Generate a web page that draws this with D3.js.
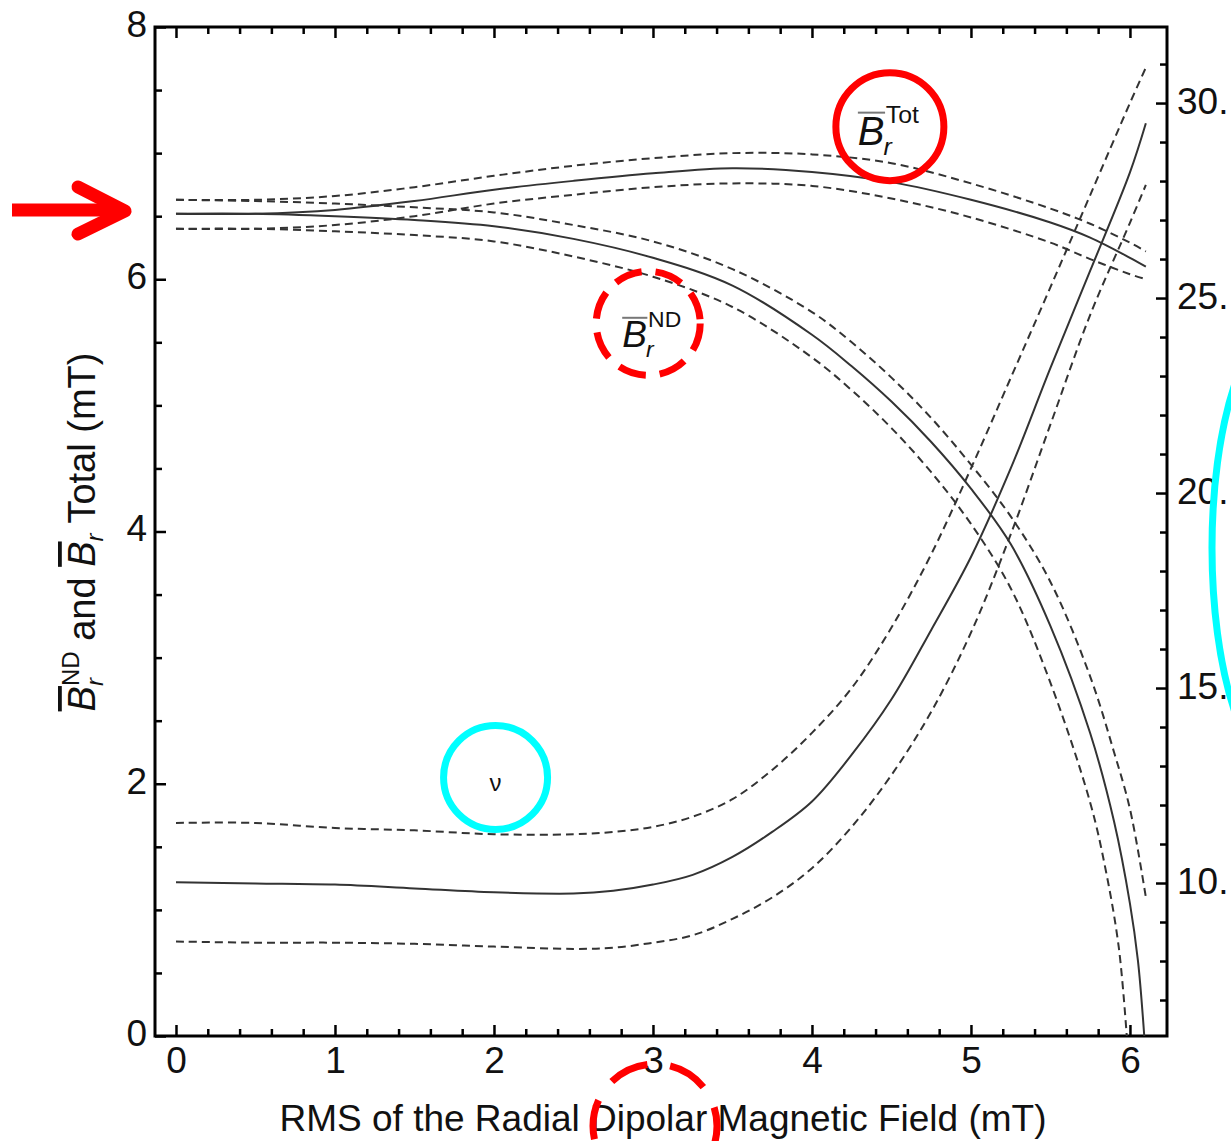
<!DOCTYPE html>
<html>
<head>
<meta charset="utf-8">
<script src="https://cdn.jsdelivr.net/npm/d3@7"></script>
<style>
body { margin: 0; background: #fff; }
text { font-family: "Liberation Sans", Arial, sans-serif; fill: #111; }
</style>
</head>
<body>
<script>
// x values (mT) for the total-field and nu curves
const xTot = [0, 0.5, 1, 1.5, 2, 2.5, 3, 3.5, 4, 4.5, 5, 5.5, 5.75, 6, 6.1];
const totMean  = [6.52, 6.52, 6.55, 6.62, 6.71, 6.78, 6.84, 6.88, 6.85, 6.77, 6.63, 6.45, 6.33, 6.17, 6.10];
const totUpper = [6.63, 6.63, 6.66, 6.73, 6.82, 6.90, 6.96, 7.00, 6.99, 6.92, 6.76, 6.56, 6.44, 6.29, 6.22];
const totLower = [6.40, 6.40, 6.43, 6.50, 6.60, 6.67, 6.73, 6.76, 6.74, 6.64, 6.49, 6.29, 6.16, 6.04, 6.00];

// non-dipolar part, it drops to zero near 6 mT
const xNd      = [0, 0.5, 1, 1.5, 2, 2.5, 3, 3.5, 4, 4.25, 4.5, 4.75, 5, 5.25, 5.5, 5.75, 5.9, 6.0, 6.05, 6.09];
const ndMean   = [6.52, 6.52, 6.50, 6.47, 6.42, 6.32, 6.17, 5.95, 5.56, 5.31, 5.03, 4.71, 4.34, 3.90, 3.25, 2.40, 1.70, 1.05, 0.60, 0];
const xNdUp    = [0, 0.5, 1, 1.5, 2, 2.5, 3, 3.5, 4, 4.25, 4.5, 4.75, 5, 5.25, 5.5, 5.75, 5.9, 6.0, 6.1];
const ndUpper  = [6.63, 6.62, 6.60, 6.57, 6.53, 6.43, 6.30, 6.08, 5.74, 5.50, 5.22, 4.90, 4.53, 4.12, 3.60, 2.85, 2.25, 1.80, 1.10];
const xNdLo    = [0, 0.5, 1, 1.5, 2, 2.5, 3, 3.5, 4, 4.25, 4.5, 4.75, 5, 5.25, 5.5, 5.75, 5.85, 5.93, 5.98];
const ndLower  = [6.40, 6.40, 6.38, 6.35, 6.30, 6.18, 6.02, 5.78, 5.38, 5.12, 4.82, 4.47, 4.06, 3.55, 2.80, 1.85, 1.30, 0.70, 0];

// nu, read on the right axis
const xNu     = [0, 0.5, 1, 1.5, 2, 2.5, 2.75, 3, 3.25, 3.5, 3.75, 4, 4.25, 4.5, 4.75, 5, 5.25, 5.5, 5.75, 6, 6.1];
const nuMean  = [10.02, 9.99, 9.96, 9.86, 9.76, 9.73, 9.80, 9.96, 10.21, 10.67, 11.31, 12.09, 13.29, 14.71, 16.49, 18.36, 20.63, 23.21, 25.70, 28.22, 29.48];
const nuUpper = [11.54, 11.54, 11.41, 11.35, 11.25, 11.25, 11.31, 11.44, 11.70, 12.15, 12.90, 13.85, 15.00, 16.55, 18.43, 20.63, 22.95, 25.28, 27.64, 30.00, 30.91];
const nuLower = [8.50, 8.47, 8.47, 8.44, 8.37, 8.31, 8.34, 8.47, 8.66, 9.08, 9.63, 10.38, 11.44, 12.77, 14.39, 16.42, 18.94, 21.76, 24.57, 26.93, 27.90];

// ticks
const xMajor = [0, 1, 2, 3, 4, 5, 6];
const xMinor = d3.range(0, 31).map(i => i * 0.2).filter(v => Math.abs(v - Math.round(v)) > 0.01);
const yMajor = [0, 2, 4, 6, 8];
const yMinor = [0.5, 1, 1.5, 2.5, 3, 3.5, 4.5, 5, 5.5, 6.5, 7, 7.5];
const y2Major = [10, 15, 20, 25, 30];
const y2Minor = [7, 8, 9, 11, 12, 13, 14, 16, 17, 18, 19, 21, 22, 23, 24, 26, 27, 28, 29, 31];

const W = 1231, H = 1141;
const margin = {top: 27, right: 64, bottom: 105, left: 155},
width = W - margin.left - margin.right,
height = H - margin.top - margin.bottom;

const svg = d3.select("body")
.append("svg")
.attr("width", W)
.attr("height", H);

const g = svg.append("g")
.attr("transform", `translate(${margin.left},${margin.top})`);

const x = d3.scaleLinear().domain([-0.132, 6.233]).range([0, width]);
const y = d3.scaleLinear().domain([0, 8]).range([height, 0]);
const y2 = d3.scaleLinear().domain([6.077, 31.95]).range([height, 0]);

const fs = 37;

function styleAxis(sel) {
  sel.select(".domain").remove();
  sel.selectAll("line").attr("stroke", "#000").attr("stroke-width", 2.5);
  sel.selectAll("text").attr("font-size", fs).attr("fill", "#111")
    .attr("font-family", "Liberation Sans, Arial, sans-serif");
}

// bottom
g.append("g").attr("transform", `translate(0,${height})`)
  .call(d3.axisBottom(x).tickValues(xMajor).tickSize(-11).tickPadding(11).tickFormat(d3.format("d")))
  .call(styleAxis);
g.append("g").attr("transform", `translate(0,${height})`)
  .call(d3.axisBottom(x).tickValues(xMinor).tickSize(-7).tickFormat(""))
  .call(styleAxis);
// top
g.append("g")
  .call(d3.axisTop(x).tickValues(xMajor).tickSize(-11).tickFormat(""))
  .call(styleAxis);
g.append("g")
  .call(d3.axisTop(x).tickValues(xMinor).tickSize(-7).tickFormat(""))
  .call(styleAxis);
// left
g.append("g")
  .call(d3.axisLeft(y).tickValues(yMajor).tickSize(-11).tickPadding(8).tickFormat(d3.format("d")))
  .call(styleAxis)
  .selectAll("text").attr("dy", "0.25em");
g.append("g")
  .call(d3.axisLeft(y).tickValues(yMinor).tickSize(-7).tickFormat(""))
  .call(styleAxis);
// right
g.append("g").attr("transform", `translate(${width},0)`)
  .call(d3.axisRight(y2).tickValues(y2Major).tickSize(-11).tickPadding(10).tickFormat(d => d + "."))
  .call(styleAxis)
  .selectAll("text").attr("dy", "0.28em");
g.append("g").attr("transform", `translate(${width},0)`)
  .call(d3.axisRight(y2).tickValues(y2Minor).tickSize(-7).tickFormat(""))
  .call(styleAxis);

// frame
g.append("rect")
  .attr("width", width).attr("height", height)
  .attr("fill", "none").attr("stroke", "#000").attr("stroke-width", 3);

// curves
function curve(xs, ys, scale, dashed) {
  const pts = xs.map((d, i) => [d, ys[i]]);
  g.append("path")
    .datum(pts)
    .attr("fill", "none")
    .attr("stroke", "#333")
    .attr("stroke-width", 2)
    .attr("stroke-dasharray", dashed ? "8,5" : null)
    .attr("d", d3.line().x(d => x(d[0])).y(d => scale(d[1])).curve(d3.curveCatmullRom.alpha(0.5)));
}
curve(xTot, totUpper, y, true);
curve(xTot, totLower, y, true);
curve(xTot, totMean, y, false);
curve(xNdUp, ndUpper, y, true);
curve(xNdLo, ndLower, y, true);
curve(xNd, ndMean, y, false);
curve(xNu, nuUpper, y2, true);
curve(xNu, nuLower, y2, true);
curve(xNu, nuMean, y2, false);

// x label
svg.append("text")
  .attr("x", 663).attr("y", 1131)
  .attr("text-anchor", "middle")
  .attr("font-size", fs)
  .text("RMS of the Radial Dipolar Magnetic Field (mT)");

// y label
const yl = svg.append("text")
  .attr("transform", "translate(95,532) rotate(-90)")
  .attr("text-anchor", "middle")
  .attr("font-size", 38);
yl.append("tspan").attr("font-style", "italic").style("text-decoration", "overline").text("B");
yl.append("tspan").attr("font-style", "italic").attr("font-size", 24).attr("dy", 8).text("r");
yl.append("tspan").attr("font-size", 24).attr("dx", -8).attr("dy", -24).text("ND");
yl.append("tspan").attr("dy", 16).text(" and ");
yl.append("tspan").attr("font-style", "italic").style("text-decoration", "overline").text("B");
yl.append("tspan").attr("font-style", "italic").attr("font-size", 24).attr("dy", 8).text("r");
yl.append("tspan").attr("dy", -8).text(" Total (mT)");

// B-bar labels
function brLabel(px, py, sup, size) {
  const s = size * 0.62;
  svg.append("text").attr("x", px).attr("y", py).attr("font-size", size)
    .attr("font-style", "italic").text("B");
  svg.append("line")
    .attr("x1", px).attr("x2", px + size * 0.68)
    .attr("y1", py - size * 0.8).attr("y2", py - size * 0.8)
    .attr("stroke", "#777").attr("stroke-width", 2);
  svg.append("text").attr("x", px + size * 0.7).attr("y", py - size * 0.55)
    .attr("font-size", s).text(sup);
  svg.append("text").attr("x", px + size * 0.64).attr("y", py + size * 0.27)
    .attr("font-size", s).attr("font-style", "italic").text("r");
}

// annotations
const totC = [x(4.49) + margin.left, y(7.21) + margin.top];
const ndC = [x(2.97) + margin.left, y(5.65) + margin.top];
const nuC = [x(2.01) + margin.left, y(2.05) + margin.top];

svg.append("circle").attr("cx", totC[0]).attr("cy", totC[1]).attr("r", 54)
  .attr("fill", "none").attr("stroke", "#ff0000").attr("stroke-width", 7);
brLabel(totC[0] - 32, totC[1] + 18, "Tot", 40);

svg.append("circle").attr("cx", ndC[0]).attr("cy", ndC[1]).attr("r", 52)
  .attr("fill", "none").attr("stroke", "#ff0000").attr("stroke-width", 7)
  .attr("stroke-dasharray", "28,14");
brLabel(ndC[0] - 26, ndC[1] + 24, "ND", 37);

svg.append("circle").attr("cx", nuC[0]).attr("cy", nuC[1]).attr("r", 52)
  .attr("fill", "none").attr("stroke", "#00ffff").attr("stroke-width", 7);
svg.append("text").attr("x", nuC[0]).attr("y", nuC[1] + 14)
  .attr("text-anchor", "middle").attr("font-size", 24).attr("fill", "#333").text("ν");

// red arrow on the left
svg.append("line").attr("x1", 12).attr("x2", 118).attr("y1", 210).attr("y2", 210)
  .attr("stroke", "#ff0000").attr("stroke-width", 13);
svg.append("path").attr("d", "M78,187 L125,211 L78,234")
  .attr("fill", "none").attr("stroke", "#ff0000").attr("stroke-width", 13)
  .attr("stroke-linecap", "round").attr("stroke-linejoin", "round");

// cyan ellipse at right edge
svg.append("ellipse").attr("cx", 1290).attr("cy", 548).attr("rx", 78).attr("ry", 232)
  .attr("fill", "none").attr("stroke", "#00ffff").attr("stroke-width", 7);

// dashed red circle at the bottom
svg.append("circle").attr("cx", 655).attr("cy", 1126).attr("r", 62)
  .attr("fill", "none").attr("stroke", "#ff0000").attr("stroke-width", 7)
  .attr("stroke-dasharray", "40,23").attr("stroke-dashoffset", 8);
</script>
</body>
</html>
